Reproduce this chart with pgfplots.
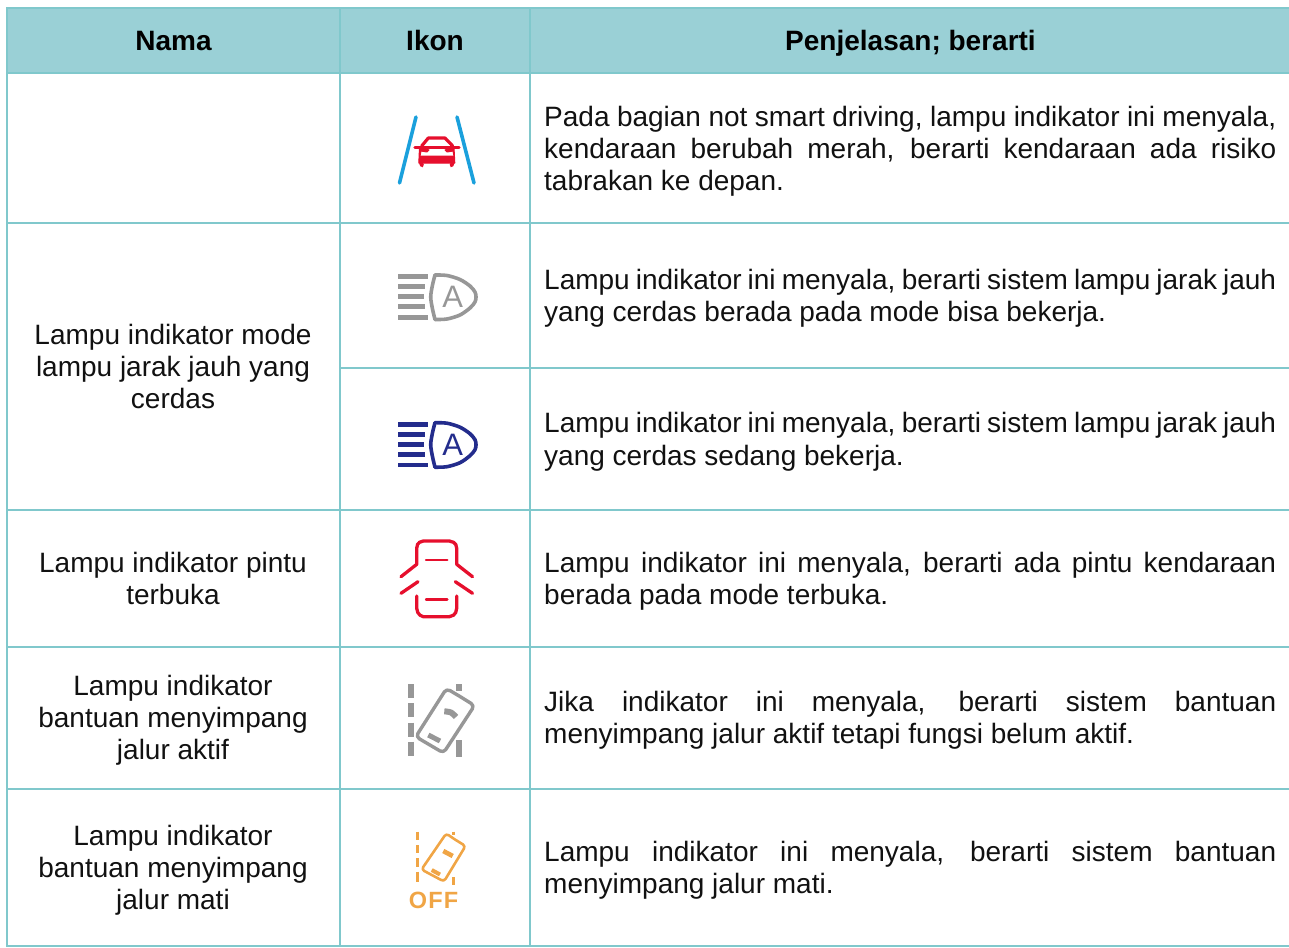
\documentclass[border=0pt]{standalone}
\usepackage{pgfplots}
\pgfplotsset{compat=1.18}
\usepackage{fontspec}
\setmainfont{Liberation Sans}
\definecolor{hdr}{HTML}{9AD0D6}
\definecolor{rule}{HTML}{80C8CC}
\definecolor{txt}{HTML}{111111}
\definecolor{blu}{HTML}{1AA0DC}
\definecolor{redi}{HTML}{E60F2D}
\definecolor{gry}{HTML}{979797}
\definecolor{nvy}{HTML}{232C8C}
\definecolor{org}{HTML}{F0A545}
\newcommand{\fs}{\fontsize{28}{32}\selectfont}
\newcommand{\Jline}[2]{\node[anchor=base west,inner sep=0pt,text=txt] at (axis cs:544,#1) {\fs\makebox[732pt][s]{#2}};}
\newcommand{\Lline}[2]{\node[anchor=base west,inner sep=0pt,text=txt] at (axis cs:544,#1) {\fs #2};}
\newcommand{\Cline}[2]{\node[anchor=base,inner sep=0pt,text=txt] at (axis cs:173,#1) {\fs #2};}
\begin{document}
\begin{tikzpicture}
\path[use as bounding box] (0,0) rectangle (1289pt,947pt);
\begin{axis}[scale only axis,width=1289pt,height=947pt,xmin=0,xmax=1289,ymin=0,ymax=947,y dir=reverse,axis lines=none,clip=true,
 every axis plot/.append style={line cap=round,line join=round}]
% header
\addplot[fill=hdr,draw=none] coordinates {(7,8)(1289,8)(1289,73)(7,73)} -- cycle;
% table rules
\pgfplotsset{tr/.style={draw=rule,line width=2pt,line cap=butt}}
\addplot[tr] coordinates {(6,8)(1289,8)};
\addplot[tr] coordinates {(6,73)(1289,73)};
\addplot[tr] coordinates {(6,223)(1289,223)};
\addplot[tr] coordinates {(340,368)(1289,368)};
\addplot[tr] coordinates {(6,510)(1289,510)};
\addplot[tr] coordinates {(6,647)(1289,647)};
\addplot[tr] coordinates {(6,789)(1289,789)};
\addplot[tr] coordinates {(6,946)(1289,946)};
\addplot[tr] coordinates {(7,8)(7,947)};
\addplot[tr] coordinates {(340,8)(340,947)};
\addplot[tr] coordinates {(530,8)(530,947)};
% icon 1
\addplot[blu,line width=3.6pt] coordinates {(416,117)(399.5,183)};
\addplot[blu,line width=3.6pt] coordinates {(457,117)(474,183)};
\addplot[redi,line width=3.2pt] coordinates {(421.7,146)(428.3,138)(445,138)(452.7,146)};
\addplot[redi,line width=3.2pt] coordinates {(415,147.5)(459,147.5)};
\addplot[redi,fill=redi,line width=1pt] coordinates {(419.5,147)(418.8,163)(454.8,163)(454,147)(445,150)(447,152)(453,151)(454,156)(420,156)(421,151)(427,152)(429,150)} -- cycle;
\addplot[redi,line width=3.8pt] coordinates {(421,163)(422,165.5)};
\addplot[redi,line width=3.8pt] coordinates {(452.5,163)(451.5,165.5)};
% icon 2
\addplot[gry,line width=4.6pt,line cap=butt] coordinates {(398.3,276.7)(427.5,276.7)};
\addplot[gry,line width=4.6pt,line cap=butt] coordinates {(398.3,286.7)(425,286.7)};
\addplot[gry,line width=4.6pt,line cap=butt] coordinates {(398.3,296.7)(424,296.7)};
\addplot[gry,line width=4.6pt,line cap=butt] coordinates {(398.3,306.7)(425,306.7)};
\addplot[gry,line width=4.6pt,line cap=butt] coordinates {(398.3,317.3)(427.5,317.3)};
\addplot[gry,line width=3.6pt,smooth] coordinates {(435,275)(447,275.5)(460,279.5)(470,286)(475,292)(476,297)(475,302)(470,308)(460,315)(447,319)(435,319.5)};
\addplot[gry,line width=3.6pt,smooth] coordinates {(435,275)(432.5,285)(430.7,297)(432.5,309)(435,319.5)};
\node[inner sep=0pt,text=gry,anchor=base] at (axis cs:452.7,307.5) {\fontsize{31}{31}\selectfont A};
% icon 3
\addplot[nvy,line width=4.6pt,line cap=butt] coordinates {(398.3,424.3)(427.5,424.3)};
\addplot[nvy,line width=4.6pt,line cap=butt] coordinates {(398.3,434.3)(425,434.3)};
\addplot[nvy,line width=4.6pt,line cap=butt] coordinates {(398.3,444.3)(424,444.3)};
\addplot[nvy,line width=4.6pt,line cap=butt] coordinates {(398.3,454.3)(425,454.3)};
\addplot[nvy,line width=4.6pt,line cap=butt] coordinates {(398.3,465)(427.5,465)};
\addplot[nvy,line width=3.6pt,smooth] coordinates {(435,422.7)(447,423.2)(460,427.2)(470,433.7)(475,439.7)(476,444.7)(475,449.7)(470,455.7)(460,462.7)(447,466.7)(435,467.2)};
\addplot[nvy,line width=3.6pt,smooth] coordinates {(435,422.7)(432.5,432.7)(430.7,444.7)(432.5,456.7)(435,467.2)};
\node[inner sep=0pt,text=nvy,anchor=base] at (axis cs:452.7,455.2) {\fontsize{31}{31}\selectfont A};
% icon 4
\addplot[redi,line width=3.3pt] coordinates {(401,576.7)(416.7,564.3)(416.7,548.3)(417.5,544.5)(419.5,542.3)(423.3,541)(449.3,541)(453.5,542.3)(455.8,544.5)(456.7,548.3)(456.7,564.3)(472.5,576.7)};
\addplot[redi,line width=2.4pt] coordinates {(426,560)(447.3,560)};
\addplot[redi,line width=2.4pt] coordinates {(426,599.3)(447.3,599.3)};
\addplot[redi,line width=3.3pt] coordinates {(401,593.3)(418,581.7)};
\addplot[redi,line width=3.3pt] coordinates {(455.3,581.7)(472.5,593.3)};
\addplot[redi,line width=3.3pt] coordinates {(416.7,596)(416.7,608.3)(417.8,612.5)(420,615.2)(423.3,616.7)(449.3,616.7)(453.5,615.2)(455.7,612.5)(456.7,608.3)(456.7,596)};
% icon 5
\pgfplotsset{d5/.style={gry,line width=5.6pt,line cap=butt}}
\addplot[d5] coordinates {(410.7,684.3)(410.7,698.3)};
\addplot[d5] coordinates {(410.7,703.3)(410.7,717.3)};
\addplot[d5] coordinates {(410.7,722.7)(410.7,736.7)};
\addplot[d5] coordinates {(410.7,741.5)(410.7,756)};
\addplot[d5] coordinates {(459,684.3)(459,691)};
\addplot[d5] coordinates {(459,740)(459,756.7)};
\addplot[gry,line width=3.4pt,rounded corners=4pt] coordinates {(460,696.5)(474.5,705.5)(443.5,753)(415.8,736.7)(446.5,688.5)(460,696.5)};
\addplot[gry,line width=6pt,line cap=butt,smooth] coordinates {(444.3,711.3)(451,712.5)(456,717)};
\addplot[gry,line width=5pt,line cap=butt] coordinates {(428.3,735)(440,741)};
% icon 6
\pgfplotsset{d6/.style={org,line width=3.4pt,line cap=butt}}
\addplot[d6] coordinates {(417.3,831.7)(417.3,840)};
\addplot[d6] coordinates {(417.3,845)(417.3,853.3)};
\addplot[d6] coordinates {(417.3,858.3)(417.3,866.7)};
\addplot[d6] coordinates {(417.3,871.7)(417.3,882.3)};
\addplot[d6] coordinates {(453.3,831.7)(453.3,834.5)};
\addplot[d6] coordinates {(453.3,877.3)(453.3,885)};
\addplot[org,line width=2.6pt,rounded corners=3pt] coordinates {(455,839.5)(465.5,846)(444,881.5)(421.5,869.5)(446.2,833.5)(455,839.5)};
\addplot[org,line width=4.6pt,line cap=butt] coordinates {(443.3,851)(452.7,856)};
\addplot[org,line width=4pt,line cap=butt] coordinates {(431.7,870)(440,874.5)};
\node[inner sep=0pt,text=org,anchor=base] at (axis cs:433.5,908) {\fontsize{23.5}{24}\selectfont\bfseries O\kern1.2pt F\kern1.2pt F};
% header text
\node[anchor=base,inner sep=0pt,text=black] at (axis cs:173.5,50.7) {\fs\bfseries Nama};
\node[anchor=base,inner sep=0pt,text=black] at (axis cs:435,50.7) {\fs\bfseries Ikon};
\node[anchor=base,inner sep=0pt,text=black] at (axis cs:910.5,50.7) {\fs\bfseries Penjelasan; berarti};
% first column
\Cline{344}{Lampu indikator mode}
\Cline{376}{lampu jarak jauh yang}
\Cline{408}{cerdas}
\Cline{572}{Lampu indikator pintu}
\Cline{604}{terbuka}
\Cline{695}{Lampu indikator}
\Cline{727}{bantuan menyimpang}
\Cline{759}{jalur aktif}
\Cline{845}{Lampu indikator}
\Cline{877}{bantuan menyimpang}
\Cline{909}{jalur mati}
% third column
\Jline{126}{Pada bagian not smart driving, lampu indikator ini menyala,}
\Jline{158}{kendaraan berubah merah, berarti kendaraan ada risiko}
\Lline{190}{tabrakan ke depan.}
\Jline{289}{Lampu indikator ini menyala, berarti sistem lampu jarak jauh}
\Lline{321}{yang cerdas berada pada mode bisa bekerja.}
\Jline{432}{Lampu indikator ini menyala, berarti sistem lampu jarak jauh}
\Lline{465}{yang cerdas sedang bekerja.}
\Jline{572}{Lampu indikator ini menyala, berarti ada pintu kendaraan}
\Lline{604}{berada pada mode terbuka.}
\Jline{711}{Jika indikator ini menyala, berarti sistem bantuan}
\Lline{743}{menyimpang jalur aktif tetapi fungsi belum aktif.}
\Jline{861}{Lampu indikator ini menyala, berarti sistem bantuan}
\Lline{893}{menyimpang jalur mati.}
\end{axis}
\end{tikzpicture}
\end{document}
